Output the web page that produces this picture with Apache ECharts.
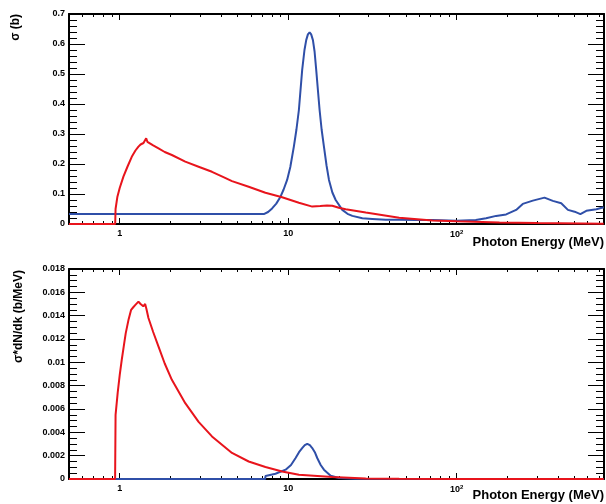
<!DOCTYPE html>
<html><head><meta charset="utf-8">
<script src="https://cdn.jsdelivr.net/npm/echarts@6/dist/echarts.min.js"></script>
<style>html,body{margin:0;padding:0;background:#fff}#c{width:606px;height:504px}</style>
</head><body><div id="c"></div>
<script>
// ---- axis ranges / ticks ----
const xMin = 0.5, xMax = 750;
const xMinorTicks = [0.5,0.6,0.7,0.8,0.9,2,3,4,5,6,7,8,9,20,30,40,50,60,70,80,90,200,300,400,500,600,700];
const topYMax = 0.7, topYStep = 0.1;
const botYMax = 0.018, botYStep = 0.002;

// ---- top panel: cross section sigma (b) vs photon energy (MeV) ----
const topBlueE = [0.5,7.17,7.6,8.03,8.5,9.01,9.4,9.86,10.3,10.81,11.2,11.58,12.11,12.5,12.8,13.1,13.41,13.7,14.03,14.35,14.68,15.0,15.37,15.8,16.31,16.9,17.47,18.3,19.15,20.96,22.5,24.05,27.57,31.6,38,45.6,57.3,71.9,100,130,149.6,171.6,196.8,225.7,247,283.5,332.5,372.6,418,458,502,543,589,676,747];
const topBlueSigma = [0.033,0.033,0.040,0.052,0.068,0.091,0.115,0.147,0.19,0.258,0.315,0.38,0.513,0.58,0.613,0.632,0.639,0.632,0.613,0.575,0.513,0.45,0.38,0.315,0.258,0.195,0.147,0.105,0.08,0.047,0.034,0.027,0.019,0.017,0.014,0.014,0.013,0.013,0.011,0.013,0.019,0.027,0.032,0.047,0.067,0.078,0.088,0.077,0.069,0.047,0.041,0.033,0.044,0.049,0.056];

const topRedE = [0.5,0.94,0.945,0.969,1.0,1.052,1.11,1.179,1.24,1.292,1.33,1.384,1.41,1.436,1.46,1.481,1.58,1.70,1.85,2.04,2.45,2.94,3.53,4.1,4.64,5.83,7.33,9.21,11.58,13.9,15.5,17.0,18.28,20.0,21.96,28.9,45.6,71.9,100,179.6,300,747];
const topRedSigma = [0,0,0.05,0.091,0.12,0.158,0.19,0.224,0.245,0.258,0.265,0.27,0.276,0.286,0.274,0.271,0.262,0.252,0.24,0.23,0.208,0.191,0.174,0.157,0.143,0.124,0.104,0.089,0.071,0.058,0.06,0.062,0.061,0.054,0.049,0.038,0.021,0.012,0.009,0.005,0.003,0.001];

// ---- bottom panel: sigma*dN/dk (b/MeV) vs photon energy (MeV) ----
const botBlueE = [0.5,7.3,7.34,8.41,9.66,10.4,11.07,11.6,12.11,12.55,12.98,13.45,13.9,14.4,14.88,15.6,16.31,17.88,20.04,25,747];
const botBlueY = [0,0,0.00026,0.00045,0.0008,0.0012,0.0018,0.0023,0.00265,0.0029,0.00302,0.0029,0.00265,0.0023,0.0018,0.0012,0.0008,0.00028,0.00009,0.00002,0];

const botRedE = [0.5,0.939,0.945,0.973,1.0,1.028,1.06,1.086,1.13,1.169,1.2,1.235,1.292,1.33,1.352,1.38,1.416,1.44,1.481,1.58,1.70,1.85,2.04,2.45,2.94,3.53,4.64,5.83,7.33,9.21,11.58,18.28,28.9,45.6,100,747];
const botRedY = [0,0,0.0055,0.0074,0.0089,0.0102,0.0115,0.0125,0.0137,0.0145,0.0147,0.0149,0.0152,0.0150,0.0149,0.0148,0.0150,0.0146,0.0138,0.0126,0.01135,0.0099,0.0085,0.0065,0.0049,0.00365,0.00223,0.0015,0.00103,0.00065,0.00037,0.00017,0.00005,0.00002,0.00001,0];

const RED = '#e8141c', BLUE = '#2f4fa8';
const FONT = '"Liberation Sans", Arial, Helvetica, sans-serif';
const zip = (a, b) => a.map((v, i) => [v, b[i]]);

function majorX(grid, pos, labels) {
  return {
    type: 'log', logBase: 10, gridIndex: grid, position: pos, min: xMin, max: xMax,
    axisLine: { show: true, onZero: false, lineStyle: { color: '#000', width: 2 } },
    axisTick: { show: true, inside: true, length: 6, lineStyle: { color: '#000', width: 1 } },
    splitLine: { show: false },
    axisLabel: labels ? {
      show: true, margin: 5, color: '#000',
      formatter: function (v) {
        const e = Math.log10(v);
        if (Math.abs(e - Math.round(e)) > 1e-6) return '';
        const n = Math.round(e);
        if (n === 0) return '{b|1}';
        if (n === 1) return '{b|10}';
        return '{b|10}{s|' + n + '}';
      },
      rich: {
        b: { fontFamily: FONT, fontWeight: 'bold', fontSize: 9, color: '#000' },
        s: { fontFamily: FONT, fontWeight: 'bold', fontSize: 6, color: '#000', verticalAlign: 'top', padding: [0, 0, 5, 0] }
      }
    } : { show: false }
  };
}
function minorX(grid, pos) {
  return {
    type: 'value', gridIndex: grid, position: pos,
    min: Math.log10(xMin), max: Math.log10(xMax),
    axisLine: { show: false, onZero: false },
    axisTick: { show: true, inside: true, length: 3, lineStyle: { color: '#000', width: 1 },
      customValues: xMinorTicks.map(v => Math.log10(v)) },
    axisLabel: { show: false },
    splitLine: { show: false }
  };
}
function yAx(grid, pos, max, step, minorSplit, labels) {
  return {
    type: 'value', gridIndex: grid, position: pos, min: 0, max: max, interval: step,
    axisLine: { show: true, onZero: false, lineStyle: { color: '#000', width: 2 } },
    axisTick: { show: true, inside: true, length: 16, lineStyle: { color: '#000', width: 1 } },
    minorTick: { show: true, splitNumber: minorSplit, length: 8, lineStyle: { color: '#000', width: 1 } },
    splitLine: { show: false },
    axisLabel: labels ? { show: true, margin: 4, color: '#000', fontFamily: FONT, fontWeight: 'bold', fontSize: 9 } : { show: false }
  };
}

const chart = echarts.init(document.getElementById('c'), null, { renderer: 'canvas', width: 606, height: 504 });
chart.setOption({
  animation: false,
  backgroundColor: '#fff',
  grid: [
    { left: 69, right: 2, top: 14, height: 210, containLabel: false, outerBoundsMode: 'none' },
    { left: 69, right: 2, top: 269, height: 210, containLabel: false, outerBoundsMode: 'none' }
  ],
  xAxis: [
    majorX(0, 'bottom', true), majorX(0, 'top', false), minorX(0, 'bottom'), minorX(0, 'top'),
    majorX(1, 'bottom', true), majorX(1, 'top', false), minorX(1, 'bottom'), minorX(1, 'top')
  ],
  yAxis: [
    yAx(0, 'left', topYMax, topYStep, 5, true), yAx(0, 'right', topYMax, topYStep, 5, false),
    yAx(1, 'left', botYMax, botYStep, 4, true), yAx(1, 'right', botYMax, botYStep, 4, false)
  ],
  series: [
    { type: 'line', xAxisIndex: 0, yAxisIndex: 0, data: zip(topBlueE, topBlueSigma), showSymbol: false,
      lineStyle: { color: BLUE, width: 2 }, itemStyle: { color: BLUE } },
    { type: 'line', xAxisIndex: 0, yAxisIndex: 0, data: zip(topRedE, topRedSigma), showSymbol: false,
      lineStyle: { color: RED, width: 2 }, itemStyle: { color: RED } },
    { type: 'line', xAxisIndex: 4, yAxisIndex: 2, data: zip(botBlueE, botBlueY), showSymbol: false,
      lineStyle: { color: BLUE, width: 2 }, itemStyle: { color: BLUE } },
    { type: 'line', xAxisIndex: 4, yAxisIndex: 2, data: zip(botRedE, botRedY), showSymbol: false,
      lineStyle: { color: RED, width: 2 }, itemStyle: { color: RED } }
  ],
  graphic: [
    { type: 'text', x: 16, y: 14, rotation: Math.PI / 2,
      style: { text: 'σ (b)', font: 'bold 12px ' + FONT, fill: '#000', align: 'right', verticalAlign: 'middle' } },
    { type: 'text', x: 19, y: 270, rotation: Math.PI / 2,
      style: { text: 'σ*dN/dk (b/MeV)', font: 'bold 12px ' + FONT, fill: '#000', align: 'right', verticalAlign: 'middle' } },
    { type: 'text', x: 604, y: 242,
      style: { text: 'Photon Energy (MeV)', font: 'bold 13px ' + FONT, fill: '#000', align: 'right', verticalAlign: 'middle' } },
    { type: 'text', x: 604, y: 495,
      style: { text: 'Photon Energy (MeV)', font: 'bold 13px ' + FONT, fill: '#000', align: 'right', verticalAlign: 'middle' } }
  ]
});
</script>
</body></html>
